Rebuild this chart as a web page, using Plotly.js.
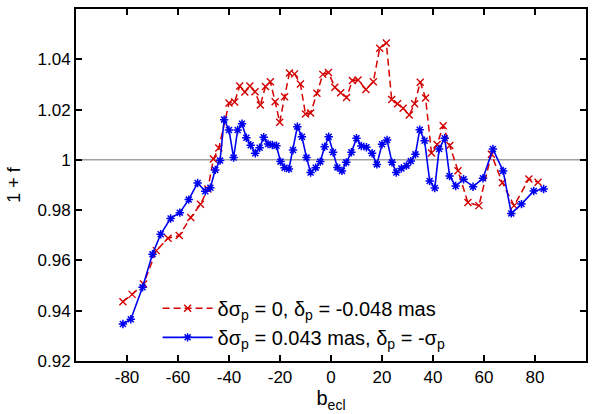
<!DOCTYPE html>
<html>
<head>
<meta charset="utf-8">
<script src="https://cdn.plot.ly/plotly-3.0.1.min.js"></script>
<style>
  body { margin: 0; background: #fff; }
  #plot { width: 598px; height: 414px; }
</style>
</head>
<body>
<div id="plot"></div>
<script>
// red series: d sigma_p = 0, d_p = -0.048 mas
let red_b = [-81.6, -78.0, -73.5, -68.5, -63.9, -59.5, -55.0, -51.2, -48.3, -46.1,
  -44.0, -40.0, -37.8, -35.8, -33.8, -31.8, -29.8, -27.7, -25.7, -23.8,
  -21.9, -20.1, -18.2, -16.3, -14.3, -12.0, -10.0, -8.0, -5.5, -3.2,
  -1.0, 1.5, 3.8, 6.1, 8.4, 10.6, 13.7, 16.6, 19.1, 21.7,
  23.8, 26.1, 28.3, 30.7, 32.8, 35.0, 37.1, 39.4, 41.6, 44.0,
  46.6, 49.8, 53.7, 58.0, 62.9, 67.2, 71.8, 77.6, 81.2]
let red_f = [0.9436, 0.9465, 0.9506, 0.9639, 0.9688, 0.9699, 0.9771, 0.9823, 0.9884, 1.0003,
  1.0047, 1.0226, 1.0230, 1.0294, 1.0270, 1.0294, 1.0271, 1.0218, 1.0292, 1.0311,
  1.0231, 1.0150, 1.0251, 1.0345, 1.0342, 1.0302, 1.0182, 1.0186, 1.0265, 1.0340,
  1.0347, 1.0289, 1.0267, 1.0248, 1.0316, 1.0318, 1.0280, 1.0311, 1.0444, 1.0465,
  1.0240, 1.0223, 1.0205, 1.0178, 1.0223, 1.0309, 1.0246, 1.0027, 1.0061, 1.0136,
  1.0057, 0.9957, 0.9830, 0.9818, 1.0022, 0.9909, 0.9818, 0.9924, 0.9911]

// blue series: d sigma_p = 0.043 mas, d_p = -sigma_p
let blue_b = [-81.6, -78.5, -73.9, -70.0, -66.8, -62.9, -59.3, -55.8, -52.3, -49.3,
  -47.3, -45.4, -43.5, -41.9, -40.0, -38.2, -36.6, -34.9, -33.2, -31.5,
  -29.7, -28.0, -26.4, -24.7, -23.0, -21.4, -19.8, -18.2, -16.5, -14.9,
  -13.2, -11.4, -9.6, -8.0, -6.0, -4.2, -2.5, -0.9, 0.8, 2.5,
  4.3, 6.0, 8.0, 10.0, 11.9, 13.9, 16.1, 18.0, 20.0, 22.0,
  23.9, 25.6, 27.6, 29.6, 31.3, 33.1, 34.8, 36.7, 38.7, 40.7,
  42.4, 44.6, 46.5, 48.9, 52.0, 55.7, 59.6, 63.5, 67.5, 70.7,
  74.7, 79.5, 83.4]
let blue_f = [0.9347, 0.9366, 0.9493, 0.9625, 0.9704, 0.9767, 0.9790, 0.9842, 0.9908, 0.9875,
  0.9889, 0.9960, 0.9997, 1.0160, 1.0119, 1.0009, 1.0119, 1.0144, 1.0088, 1.0058,
  1.0026, 1.0048, 1.0090, 1.0063, 1.0059, 1.0056, 0.9993, 0.9969, 0.9964, 1.0039,
  1.0132, 1.0092, 1.0009, 0.9950, 0.9969, 0.9993, 1.0052, 1.0092, 1.0030, 0.9970,
  0.9956, 0.9990, 1.0030, 1.0086, 1.0055, 1.0050, 1.0026, 0.9982, 1.0062, 1.0079,
  0.9990, 0.9950, 0.9966, 0.9977, 0.9995, 1.0022, 1.0120, 1.0076, 0.9916, 0.9888,
  1.0043, 1.0086, 0.9936, 0.9896, 0.9923, 0.9893, 0.9927, 1.0043, 0.9956, 0.9787,
  0.9824, 0.9876, 0.9884]

let x_ticks = [-80, -60, -40, -20, 0, 20, 40, 60, 80]
let x_tick_text = ['-80', '-60', '-40', '-20', '0', '20', '40', '60', '80']
let y_ticks = [0.92, 0.94, 0.96, 0.98, 1.00, 1.02, 1.04, 1.06]
let y_tick_text = ['0.92', '0.94', '0.96', '0.98', '1', '1.02', '1.04', '1.06']

let red_trace = {
  x: red_b, y: red_f,
  type: 'scatter', mode: 'lines+markers',
  name: '\u03b4\u03c3<sub>p</sub> = 0, \u03b4<sub>p</sub> = -0.048 mas',
  line: {color: '#d40000', width: 1.5, dash: '7px,4px'},
  marker: {symbol: 'x-thin-open', size: 7, color: '#d40000', line: {color: '#d40000', width: 1.4}}
}
let blue_trace = {
  x: blue_b, y: blue_f,
  type: 'scatter', mode: 'lines+markers',
  name: '\u03b4\u03c3<sub>p</sub> = 0.043 mas, \u03b4<sub>p</sub> = -\u03c3<sub>p</sub>',
  line: {color: '#0000f0', width: 1.6},
  marker: {symbol: 'asterisk-open', size: 7, color: '#0000f0', line: {color: '#0000f0', width: 1.5}}
}

let axis_common = {
  showline: true, linecolor: '#000', linewidth: 2, mirror: 'ticks',
  ticks: 'inside', ticklen: 6, tickwidth: 2, tickcolor: '#000',
  showgrid: false, zeroline: false,
  tickfont: {family: 'Liberation Sans, Arial, sans-serif', size: 17, color: '#000'}
}

let layout = {
  width: 598, height: 414,
  margin: {l: 76, r: 12, t: 9, b: 53},
  paper_bgcolor: '#fff', plot_bgcolor: '#fff',
  font: {family: 'Liberation Sans, Arial, sans-serif', color: '#000'},
  showlegend: true,
  legend: {
    x: 0.16, y: 0.205, xanchor: 'left', yanchor: 'top',
    bgcolor: 'rgba(0,0,0,0)', borderwidth: 0,
    itemwidth: 50,
    font: {size: 20, color: '#000'},
    tracegroupgap: 0
  },
  xaxis: Object.assign({}, axis_common, {
    range: [-100, 100], tickvals: x_ticks, ticktext: x_tick_text,
    title: {text: 'b<sub>ecl</sub>', font: {size: 20}, standoff: 2}
  }),
  yaxis: Object.assign({}, axis_common, {
    range: [0.92, 1.06], tickvals: y_ticks, ticktext: y_tick_text,
    title: {text: '1 + f', font: {size: 18}, standoff: 12}
  }),
  shapes: [{
    type: 'line', xref: 'paper', x0: 0, x1: 1, yref: 'y', y0: 1, y1: 1,
    line: {color: '#a0a0a0', width: 1.5}, layer: 'below'
  }]
}

Plotly.newPlot('plot', [red_trace, blue_trace], layout, {displayModeBar: false, staticPlot: true})
</script>
</body>
</html>
